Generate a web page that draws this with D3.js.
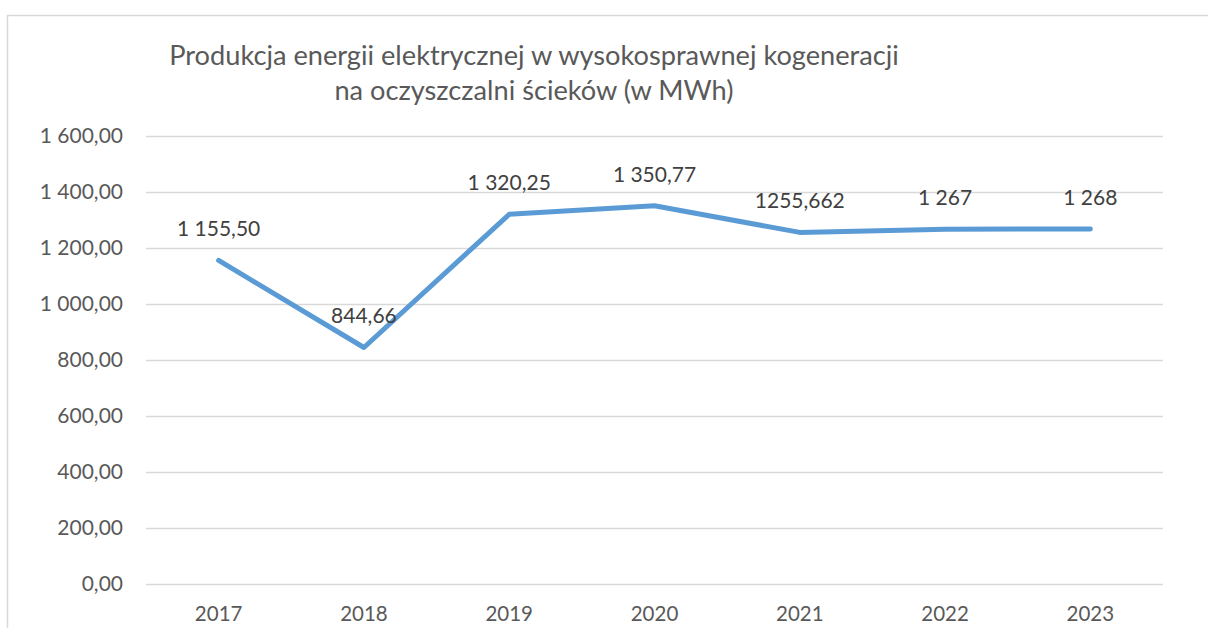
<!DOCTYPE html>
<html>
<head>
<meta charset="utf-8">
<script src="https://cdn.jsdelivr.net/npm/d3@7"></script>
<style>
  body { margin: 0; background: #fff; }
  svg { display: block; font-family: Lato, "Open Sans", sans-serif; }
</style>
</head>
<body>
<div id="chart"></div>
<script>
const years = ['2017', '2018', '2019', '2020', '2021', '2022', '2023'];
const values = [1155.50, 844.66, 1320.25, 1350.77, 1255.662, 1267, 1268];
const valueLabels = ['1 155,50', '844,66', '1 320,25', '1 350,77', '1255,662', '1 267', '1 268'];
const yTicks = [0, 200, 400, 600, 800, 1000, 1200, 1400, 1600];
const titleLines = ['Produkcja energii elektrycznej w wysokosprawnej kogeneracji', 'na oczyszczalni ścieków (w MWh)'];

const width = 1208;
const height = 628;
const margin = { top: 136, right: 45, bottom: 44, left: 146 };

const svg = d3.select('#chart')
  .append('svg')
  .attr('width', width)
  .attr('height', height);

// chart frame
svg.append('rect')
  .attr('x', 7.5)
  .attr('y', 15.5)
  .attr('width', width + 20)
  .attr('height', height + 20)
  .attr('fill', 'none')
  .attr('stroke', '#d9d9d9')
  .attr('stroke-width', 1.5);

const x = d3.scaleBand()
  .domain(years)
  .range([margin.left, width - margin.right]);

const y = d3.scaleLinear()
  .domain([0, 1600])
  .range([height - margin.bottom, margin.top]);

const locale = d3.formatLocale({ decimal: ',', thousands: ' ', grouping: [3] });
const fmt = locale.format(',.2f');

// gridlines
svg.append('g')
  .selectAll('line')
  .data(yTicks)
  .enter()
  .append('line')
  .attr('x1', margin.left)
  .attr('x2', width - margin.right)
  .attr('y1', d => Math.round(y(d)) + 0.5)
  .attr('y2', d => Math.round(y(d)) + 0.5)
  .style('stroke', '#d9d9d9')
  .style('stroke-width', 1.3);

// y axis
const yAxis = svg.append('g')
  .attr('transform', `translate(${margin.left},0)`)
  .call(d3.axisLeft(y).tickValues(yTicks).tickFormat(fmt).tickSize(0).tickPadding(23));
yAxis.select('.domain').remove();
yAxis.selectAll('text')
  .style('font-size', '21px')
  .style('fill', '#595959')
  .style('font-family', 'Lato, sans-serif');

// x axis
const xAxis = svg.append('g')
  .attr('transform', `translate(0,${height - margin.bottom})`)
  .call(d3.axisBottom(x).tickSize(0).tickPadding(22));
xAxis.select('.domain').remove();
xAxis.selectAll('text')
  .style('font-size', '20.5px')
  .style('fill', '#595959')
  .style('font-family', 'Lato, sans-serif');

// series
const line = d3.line()
  .x((d, i) => x(years[i]) + x.bandwidth() / 2)
  .y(d => y(d));

svg.append('path')
  .datum(values)
  .attr('d', line)
  .attr('fill', 'none')
  .attr('stroke', '#5b9bd5')
  .attr('stroke-width', 5)
  .attr('stroke-linecap', 'round')
  .attr('stroke-linejoin', 'round');

// data labels
svg.append('g')
  .selectAll('text')
  .data(values)
  .enter()
  .append('text')
  .attr('x', (d, i) => x(years[i]) + x.bandwidth() / 2)
  .attr('y', d => y(d) - 24)
  .attr('text-anchor', 'middle')
  .style('font-size', '21px')
  .style('fill', '#404040')
  .text((d, i) => valueLabels[i]);

// title
svg.append('text')
  .attr('x', 534)
  .attr('y', 65)
  .attr('text-anchor', 'middle')
  .style('font-size', '27.2px')
  .style('fill', '#595959')
  .selectAll('tspan')
  .data(titleLines)
  .enter()
  .append('tspan')
  .attr('x', 534)
  .attr('dy', (d, i) => i === 0 ? 0 : 35)
  .text(d => d);
</script>
</body>
</html>
